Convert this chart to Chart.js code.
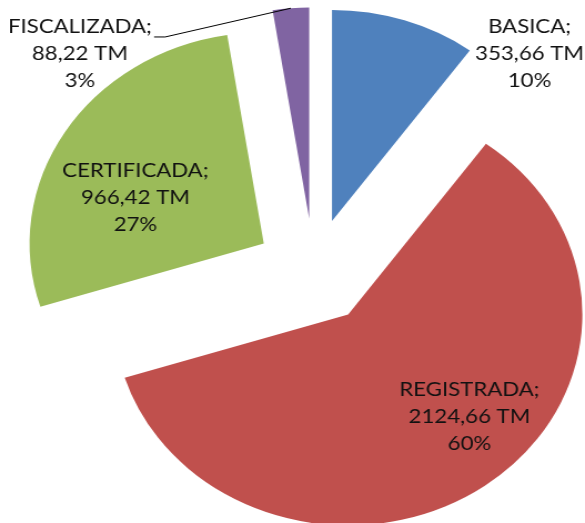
<!DOCTYPE html>
<html><head><meta charset="utf-8">
<script src="https://cdn.jsdelivr.net/npm/chart.js@4"></script>
<style>
html,body{margin:0;padding:0;background:#fff;overflow:hidden;}
#wrap{width:527px;height:523px;transform:scaleX(1.11);transform-origin:0 0;}
</style></head><body>
<div id="wrap"><canvas id="c" width="527" height="523"></canvas></div>
<script>
const categories = ['BASICA', 'REGISTRADA', 'CERTIFICADA', 'FISCALIZADA'];
const tonnes = [353.66, 2124.66, 966.42, 88.22];
const percentLabels = ['10%', '60%', '27%', '3%'];
const colors = ['#4F81BD', '#C0504D', '#9BBB59', '#8064A2'];
// label placement: angle (deg, clockwise from 12 o'clock) and distance (fraction of radius) from pie centre
const labelAngle = [41.8, 135.9, 294.8, 315.9];
const labelDist = [1.382, 0.955, 0.839, 1.435];
const leaderLine = [false, false, false, true];
const EXPLODE = 53;
const FONT = '20px Lato';
const LINE_H = 27;

function fmt(v) { return v.toFixed(2).replace('.', ',') + ' TM'; }

const explodePlugin = {
  id: 'explode',
  afterDatasetsUpdate(chart) {
    chart.getDatasetMeta(0).data.forEach(arc => {
      const mid = (arc.startAngle + arc.endAngle) / 2;
      arc.x += Math.cos(mid) * EXPLODE;
      arc.y += Math.sin(mid) * EXPLODE;
    });
  }
};

const labelPlugin = {
  id: 'pieLabels',
  afterDatasetsDraw(chart) {
    const ctx = chart.ctx;
    const ca = chart.chartArea;
    const cx = (ca.left + ca.right) / 2, cy = (ca.top + ca.bottom) / 2;
    const arcs = chart.getDatasetMeta(0).data;
    ctx.save();
    ctx.font = FONT;
    ctx.fillStyle = '#111';
    ctx.textAlign = 'center';
    ctx.textBaseline = 'middle';
    arcs.forEach((arc, i) => {
      const R = arc.outerRadius;
      const a = labelAngle[i] * Math.PI / 180;
      const x = cx + Math.sin(a) * labelDist[i] * R;
      const y = cy - Math.cos(a) * labelDist[i] * R;
      const lines = [categories[i] + ';', fmt(tonnes[i]), percentLabels[i]];
      lines.forEach((t, k) => ctx.fillText(t, x, y + (k - 1) * LINE_H));
      if (leaderLine[i]) {
        const w = ctx.measureText(lines[0]).width;
        const sx = x + w / 2 + 2, sy = y - LINE_H + 10;
        const mid = (arc.startAngle + arc.endAngle) / 2;
        const ex = arc.x + Math.cos(mid) * R, ey = arc.y + Math.sin(mid) * R;
        ctx.beginPath();
        ctx.strokeStyle = '#000';
        ctx.lineWidth = 1;
        ctx.moveTo(sx, sy);
        ctx.lineTo(sx + 10, sy);
        ctx.lineTo(ex, ey);
        ctx.stroke();
      }
    });
    ctx.restore();
  }
};

new Chart(document.getElementById('c'), {
  type: 'pie',
  data: {
    labels: categories,
    datasets: [{ data: tonnes, backgroundColor: colors, borderWidth: 0 }]
  },
  options: {
    responsive: false,
    animation: false,
    devicePixelRatio: 1,
    events: [],
    layout: { padding: { left: 71.7, right: 33.3, top: 60.4, bottom: 40.6 } },
    plugins: { legend: { display: false }, tooltip: { enabled: false }, title: { display: false } }
  },
  plugins: [explodePlugin, labelPlugin]
});
</script>
</body></html>
